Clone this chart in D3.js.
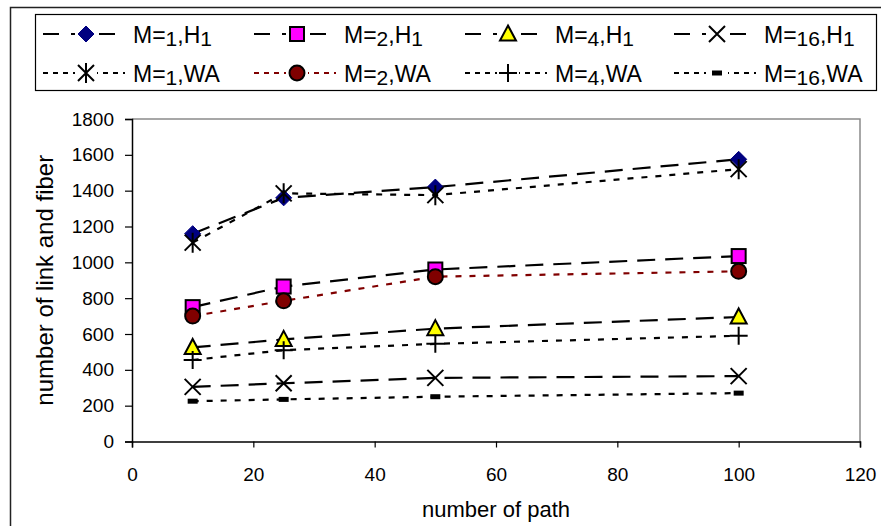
<!DOCTYPE html>
<html>
<head>
<meta charset="utf-8">
<script src="https://cdn.jsdelivr.net/npm/d3@7/dist/d3.min.js"></script>
<style>
  html, body { margin: 0; padding: 0; background: #fff; }
  svg { display: block; font-family: "Liberation Sans", Arial, sans-serif; }
</style>
</head>
<body>
<svg id="chart" width="881" height="526"></svg>
<script>
// Number of paths on the x axis
const paths = [10, 25, 50, 100];

// Number of links and fibres for each scheme
const m1H1  = [1160, 1360, 1420, 1575];
const m2H1  = [750, 865, 960, 1035];
const m4H1  = [525, 570, 630, 695];
const m16H1 = [305, 325, 355, 365];
const m1WA  = [1110, 1385, 1375, 1520];
const m2WA  = [700, 785, 920, 950];
const m4WA  = [455, 510, 545, 590];
const m16WA = [225, 235, 250, 270];

const xTicks = [0, 20, 40, 60, 80, 100, 120];
const yTicks = [0, 200, 400, 600, 800, 1000, 1200, 1400, 1600, 1800];

// label parts: [M value, suffix]
const series = [
  { m: "1",  s: "H1", values: m1H1,  kind: "dash", color: "#000", marker: "diamond" },
  { m: "2",  s: "H1", values: m2H1,  kind: "dash", color: "#000", marker: "square" },
  { m: "4",  s: "H1", values: m4H1,  kind: "dash", color: "#000", marker: "triangle" },
  { m: "16", s: "H1", values: m16H1, kind: "dash", color: "#000", marker: "x" },
  { m: "1",  s: "WA", values: m1WA,  kind: "dot",  color: "#000", marker: "star" },
  { m: "2",  s: "WA", values: m2WA,  kind: "dot",  color: "#800000", marker: "circle" },
  { m: "4",  s: "WA", values: m4WA,  kind: "dot",  color: "#000", marker: "plus" },
  { m: "16", s: "WA", values: m16WA, kind: "dot",  color: "#000", marker: "bar" }
];

const svg = d3.select("#chart");

const x = d3.scaleLinear().domain([0, 120]).range([132, 860]);
const y = d3.scaleLinear().domain([0, 1800]).range([441.5, 119]);

// outer frame
svg.append("path")
  .attr("d", "M10.5,530 V7.5 H890")
  .attr("fill", "none").attr("stroke", "#222").attr("stroke-width", 1.5);

// plot area frame (top/right grey)
svg.append("path")
  .attr("d", `M${x(0)},${y(1800)} H${x(120)} V${y(0)}`)
  .attr("fill", "none").attr("stroke", "#8a8a8a").attr("stroke-width", 1.5);

// axes
const xAxis = d3.axisBottom(x).tickValues(xTicks).tickSize(6).tickPadding(20).tickFormat(d3.format("d"));
const yAxis = d3.axisLeft(y).tickValues(yTicks).tickSize(7).tickPadding(11).tickFormat(d3.format("d"));

const gx = svg.append("g").attr("transform", `translate(0,${y(0)})`).call(xAxis);
const gy = svg.append("g").attr("transform", `translate(${x(0)},0)`).call(yAxis);
[gx, gy].forEach(g => {
  g.select(".domain").attr("stroke", "#000").attr("stroke-width", 1.5);
  g.selectAll(".tick line").attr("stroke", "#000").attr("stroke-width", 1.2);
  g.selectAll(".tick text").attr("fill", "#000").attr("font-size", 19)
    .attr("font-family", "'Liberation Sans', Arial, sans-serif");
});

// axis titles
svg.append("text")
  .attr("x", (x(0) + x(120)) / 2).attr("y", 517)
  .attr("text-anchor", "middle").attr("font-size", 22).attr("fill", "#000")
  .text("number of path");
svg.append("text")
  .attr("transform", `translate(53,${(y(0) + y(1800)) / 2}) rotate(-90)`)
  .attr("text-anchor", "middle").attr("font-size", 24).attr("fill", "#000")
  .text("number of link and fiber");

// marker drawing
function drawMarker(g, type, color) {
  switch (type) {
    case "diamond":
      g.append("path").attr("d", "M0,-8 L8,0 L0,8 L-8,0 Z")
        .attr("fill", "#000080").attr("stroke", "#000080").attr("stroke-width", 1);
      break;
    case "square":
      g.append("rect").attr("x", -7).attr("y", -7).attr("width", 14).attr("height", 14)
        .attr("fill", "#ff00ff").attr("stroke", "#000").attr("stroke-width", 2);
      break;
    case "triangle":
      g.append("path").attr("d", "M0,-8.5 L8,6.5 L-8,6.5 Z")
        .attr("fill", "#ffff00").attr("stroke", "#000").attr("stroke-width", 2).attr("stroke-linejoin", "miter");
      break;
    case "x":
      g.append("path").attr("d", "M-8,-8 L8,8 M-8,8 L8,-8")
        .attr("stroke", "#000").attr("stroke-width", 2);
      break;
    case "star":
      g.append("path").attr("d", "M-8,-8 L8,8 M-8,8 L8,-8 M0,-10 V10")
        .attr("stroke", "#000").attr("stroke-width", 2);
      break;
    case "circle":
      g.append("circle").attr("r", 7.5)
        .attr("fill", "#800000").attr("stroke", "#000").attr("stroke-width", 2);
      break;
    case "plus":
      g.append("path").attr("d", "M-9,0 H9 M0,-9 V9")
        .attr("stroke", "#000").attr("stroke-width", 2);
      break;
    case "bar":
      g.append("rect").attr("x", -5).attr("y", -2.5).attr("width", 10).attr("height", 5)
        .attr("fill", "#000");
      break;
  }
}

const dashPlot = { dash: "18,10", dot: "6,8" };
const dashLegend = { dash: "16,12", dot: "5,5" };

const line = d3.line().x((d, i) => x(paths[i])).y(d => y(d));

// lines first, then markers on top
series.forEach(s => {
  svg.append("path")
    .datum(s.values)
    .attr("d", line)
    .attr("fill", "none")
    .attr("stroke", s.color)
    .attr("stroke-width", 2.2)
    .attr("stroke-dasharray", dashPlot[s.kind]);
});
series.forEach(s => {
  s.values.forEach((v, i) => {
    const g = svg.append("g").attr("transform", `translate(${x(paths[i])},${y(v)})`);
    drawMarker(g, s.marker, s.color);
  });
});

// legend
svg.append("rect")
  .attr("x", 35.5).attr("y", 14.5).attr("width", 841).attr("height", 76)
  .attr("fill", "#fff").attr("stroke", "#000").attr("stroke-width", 1.2);

const colX = [43, 254, 465, 674];
series.forEach((s, k) => {
  const col = k % 4, row = Math.floor(k / 4);
  const cy = row === 0 ? 34 : 73;
  const x0 = colX[col];
  const lineEnd = row === 0 ? x0 + 74 : x0 + 82;
  svg.append("line")
    .attr("x1", x0).attr("x2", lineEnd).attr("y1", cy).attr("y2", cy)
    .attr("stroke", s.color).attr("stroke-width", 2.2)
    .attr("stroke-dasharray", dashLegend[s.kind]);
  const mg = svg.append("g").attr("transform", `translate(${x0 + 43},${cy})`);
  mg.append("rect").attr("x", -11).attr("y", -10).attr("width", 22).attr("height", 20).attr("fill", "#fff");
  drawMarker(mg, s.marker, s.color);

  const t = svg.append("text")
    .attr("x", x0 + 90).attr("y", cy + 9)
    .attr("font-size", 23).attr("fill", "#000");
  t.append("tspan").text("M=");
  t.append("tspan").attr("dy", 3).attr("font-size", 21).text(s.m);
  t.append("tspan").attr("dy", -3).text("," + s.s.replace(/\d/g, ""));
  const digits = s.s.replace(/\D/g, "");
  if (digits) t.append("tspan").attr("dy", 3).attr("font-size", 21).text(digits);
});
</script>
</body>
</html>
